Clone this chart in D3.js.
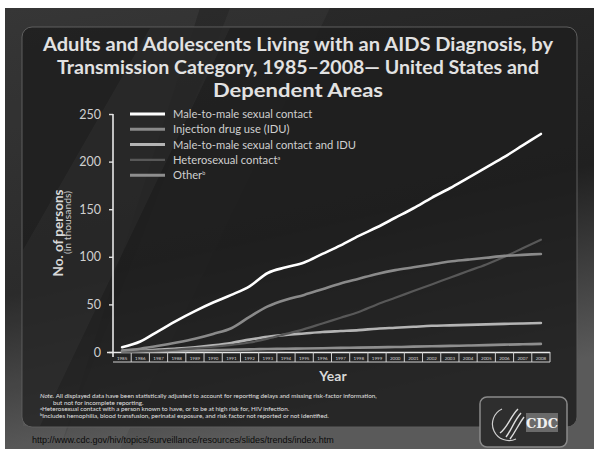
<!DOCTYPE html>
<html>
<head>
<meta charset="utf-8">
<script src="https://cdn.jsdelivr.net/npm/d3@7"></script>
<style>
  body { margin: 0; background: #fff; }
  svg { display: block; }
</style>
</head>
<body>
<svg id="chart" width="594" height="449"></svg>
<script>
// data, thousands of persons
var years = d3.range(1985, 2009);
var msm =    [5, 11, 22, 33, 43, 52, 60, 69, 83, 89, 94, 103, 112, 122, 131, 141, 151, 162, 172, 183, 194, 205, 217, 229];
var idu =    [1.5, 3.5, 6.5, 10, 14, 19, 25, 37, 48, 55, 60, 66, 72, 77, 82, 86, 89, 92, 95, 97, 99, 101, 102, 103];
var msmIdu = [1, 1.5, 2.5, 3.5, 5, 7, 9.5, 13, 16, 18, 19.5, 21, 22, 23, 24.5, 25.5, 26.5, 27.5, 28, 28.5, 29, 29.5, 30, 30.5];
var hetero = [0.5, 1, 1.5, 2.5, 4, 5.5, 7.5, 10, 14, 19, 24, 30, 36, 42, 50, 57, 64, 71, 78, 85, 92, 100, 109, 118];
var other =  [0.3, 0.5, 0.8, 1.1, 1.5, 2, 2.4, 2.8, 3.1, 3.4, 3.7, 4, 4.3, 4.6, 4.9, 5.2, 5.6, 6, 6.4, 6.8, 7.2, 7.7, 8.1, 8.5];
var yTicks = [0, 50, 100, 150, 200, 250];

var seriesNames = ['Male-to-male sexual contact', 'Injection drug use (IDU)',
  'Male-to-male sexual contact and IDU', 'Heterosexual  contact', 'Other'];
var seriesSup = ['', '', '', 'a', 'b'];

var series = [
  {values: other,  color: '#8e8e8e', width: 2.6},
  {values: msmIdu, color: '#b4b4b4', width: 2.6},
  {values: hetero, color: '#585858', width: 2.2},
  {values: idu,    color: '#8a8a8a', width: 2.6},
  {values: msm,    color: '#ffffff', width: 2.6}
];
var legendStyle = [
  {color: '#ffffff', width: 3},
  {color: '#8a8a8a', width: 3},
  {color: '#b4b4b4', width: 3},
  {color: '#585858', width: 2.4},
  {color: '#8e8e8e', width: 3}
];

var svg = d3.select('#chart');

// slide background
var defs = svg.append('defs');
var grad = defs.append('linearGradient').attr('id', 'bg')
  .attr('x1', 0).attr('y1', 0).attr('x2', 0.3).attr('y2', 1);
grad.append('stop').attr('offset', '0%').attr('stop-color', '#2c2c2c');
grad.append('stop').attr('offset', '60%').attr('stop-color', '#202020');
grad.append('stop').attr('offset', '100%').attr('stop-color', '#5a5a5a');

svg.append('rect').attr('x', 5).attr('y', 8).attr('width', 589).attr('height', 441)
  .attr('fill', 'url(#bg)');
svg.append('path').attr('d', 'M5,8 L200,8 L60,449 L5,449 Z')
  .attr('fill', '#ffffff').attr('opacity', 0.05);
svg.append('path').attr('d', 'M230,8 L330,8 L120,449 L60,449 Z')
  .attr('fill', '#ffffff').attr('opacity', 0.035);

// inner panel
svg.append('rect').attr('x', 22).attr('y', 27).attr('width', 555).attr('height', 400)
  .attr('rx', 10).attr('fill', '#1e1e1e').attr('fill-opacity', 0.85)
  .attr('stroke', '#5e5e5e').attr('stroke-width', 1);
svg.append('path').attr('d', 'M23,250 L150,28 L230,28 L40,426 L23,426 Z')
  .attr('fill', '#ffffff').attr('opacity', 0.035);

// title
var titleLines = ['Adults and Adolescents Living with an AIDS Diagnosis, by',
  'Transmission Category, 1985\u20132008\u2014 United States and',
  'Dependent Areas'];
var titleWidths = [510, 482, 170];
svg.append('g').selectAll('text').data(titleLines).join('text')
  .attr('x', 298).attr('y', function (d, i) { return 51 + i * 23; })
  .attr('text-anchor', 'middle')
  .attr('font-family', 'Lato, "Open Sans", sans-serif')
  .attr('font-weight', 'bold').attr('font-size', 19)
  .attr('fill', '#e2e2e2')
  .attr('textLength', function (d, i) { return titleWidths[i]; })
  .attr('lengthAdjust', 'spacingAndGlyphs')
  .text(function (d) { return d; });

// scales
var x = d3.scaleBand().domain(years).range([113, 550]);
var y = d3.scaleLinear().domain([0, 250]).range([352, 114]);

var g = svg.append('g');

// y axis
var yAxis = g.append('g').attr('transform', 'translate(113,0)')
  .call(d3.axisLeft(y).tickValues(yTicks).tickSize(4).tickPadding(8));
yAxis.select('.domain').remove();
yAxis.selectAll('line').attr('stroke', '#e0e0e0').attr('stroke-width', 1.4);
yAxis.selectAll('text').attr('fill', '#d0d0d0')
  .attr('font-family', 'Lato, sans-serif').attr('font-size', 12.5);
g.append('line').attr('x1', 113).attr('x2', 113).attr('y1', 114).attr('y2', 357)
  .attr('stroke', '#e8e8e8').attr('stroke-width', 1.6);

// x axis strip with boxed year labels
var xAxis = g.append('g').attr('transform', 'translate(0,352)')
  .call(d3.axisBottom(x).tickSize(0).tickPadding(5));
xAxis.select('.domain').remove();
xAxis.selectAll('text').attr('fill', '#d8d8d8')
  .attr('font-family', 'Lato, sans-serif').attr('font-size', 4.5);
g.append('line').attr('x1', 107).attr('x2', 550).attr('y1', 352.5).attr('y2', 352.5)
  .attr('stroke', '#e8e8e8').attr('stroke-width', 1.6);
g.append('line').attr('x1', 113).attr('x2', 550).attr('y1', 362).attr('y2', 362)
  .attr('stroke', '#d0d0d0').attr('stroke-width', 1);
g.append('g').selectAll('line').data(years).join('line')
  .attr('x1', function (d) { return x(d) + x.bandwidth(); })
  .attr('x2', function (d) { return x(d) + x.bandwidth(); })
  .attr('y1', 352).attr('y2', 362)
  .attr('stroke', '#d0d0d0').attr('stroke-width', 1);

// axis titles
g.append('text').attr('x', 333).attr('y', 381).attr('text-anchor', 'middle')
  .attr('font-family', 'Lato, sans-serif').attr('font-weight', 'bold')
  .attr('font-size', 14).attr('fill', '#d8d8d8').text('Year');
g.append('text').attr('transform', 'translate(63,233) rotate(-90)')
  .attr('text-anchor', 'middle')
  .attr('font-family', 'Lato, sans-serif').attr('font-weight', 'bold')
  .attr('font-size', 13.5).attr('fill', '#d8d8d8')
  .attr('textLength', 87).attr('lengthAdjust', 'spacingAndGlyphs')
  .text('No. of persons');
g.append('text').attr('transform', 'translate(70.5,191) rotate(-90)')
  .attr('text-anchor', 'end')
  .attr('font-family', 'Lato, sans-serif')
  .attr('font-size', 9).attr('fill', '#c8c8c8')
  .attr('textLength', 63).attr('lengthAdjust', 'spacingAndGlyphs')
  .text('(in thousands)');

// lines
var line = d3.line()
  .x(function (d, i) { return x(years[i]) + x.bandwidth() / 2; })
  .y(function (d) { return y(d); })
  .curve(d3.curveMonotoneX);

g.append('g').selectAll('path').data(series).join('path')
  .attr('d', function (d) { return line(d.values); })
  .attr('fill', 'none')
  .attr('stroke', function (d) { return d.color; })
  .attr('stroke-width', function (d) { return d.width; })
  .attr('stroke-linecap', 'round');

// legend
var legend = g.append('g').selectAll('g').data(seriesNames).join('g')
  .attr('transform', function (d, i) { return 'translate(130,' + (114 + i * 15.3) + ')'; });
legend.append('line').attr('x1', 0).attr('x2', 35)
  .attr('stroke', function (d, i) { return legendStyle[i].color; })
  .attr('stroke-width', function (d, i) { return legendStyle[i].width; });
var lt = legend.append('text').attr('x', 43).attr('y', 4)
  .attr('font-family', 'Lato, sans-serif').attr('font-size', 11.2)
  .attr('fill', '#cfcfcf');
lt.append('tspan').text(function (d) { return d; });
lt.append('tspan').attr('dy', -4).attr('font-size', 5.5)
  .text(function (d, i) { return seriesSup[i]; });

// notes
var notes = g.append('g').attr('font-family', 'Lato, sans-serif')
  .attr('font-size', 6.3).attr('fill', '#e0e0e0');
var n1 = notes.append('text').attr('x', 40).attr('y', 398);
n1.append('tspan').attr('font-style', 'italic').text('Note. ');
n1.append('tspan').text('All displayed data have been statistically adjusted to account for reporting delays and missing risk-factor information,');
notes.append('text').attr('x', 53).attr('y', 404.5).text('but not for incomplete reporting.');
var n3 = notes.append('text').attr('x', 40).attr('y', 411);
n3.append('tspan').attr('font-size', 4.2).attr('dy', -1.5).text('a');
n3.append('tspan').attr('dy', 1.5).text('Heterosexual contact with a person known to have, or to be at high risk for, HIV infection.');
var n4 = notes.append('text').attr('x', 40).attr('y', 417.5);
n4.append('tspan').attr('font-size', 4.2).attr('dy', -1.5).text('b');
n4.append('tspan').attr('dy', 1.5).text('Includes hemophilia, blood transfusion, perinatal exposure, and risk factor not reported or not identified.');

// CDC logo badge
var logo = svg.append('g').attr('transform', 'translate(480,397)');
logo.append('rect').attr('width', 87).attr('height', 50).attr('rx', 7)
  .attr('fill', '#2e2e2e').attr('stroke', '#8a8a8a').attr('stroke-width', 1.5);
logo.append('path').attr('d', 'M22,12 A15,15 0 1,0 36,42')
  .attr('fill', 'none').attr('stroke', '#cfcfcf').attr('stroke-width', 1.2);
logo.append('path').attr('d', 'M38,12 C30,20 28,30 20,36 M41,16 C34,24 32,32 26,40 M44,20 C38,28 36,34 30,42')
  .attr('fill', 'none').attr('stroke', '#dcdcdc').attr('stroke-width', 1.4);
logo.append('rect').attr('x', 46).attr('y', 16).attr('width', 32).attr('height', 19)
  .attr('fill', '#6a6a6a');
logo.append('text').attr('x', 62).attr('y', 31).attr('text-anchor', 'middle')
  .attr('font-family', '"DejaVu Serif", serif').attr('font-weight', 'bold')
  .attr('font-size', 13).attr('fill', '#f0f0f0').text('CDC');

// source url
svg.append('text').attr('x', 32).attr('y', 443)
  .attr('font-family', '"Liberation Sans", Arial, sans-serif').attr('font-size', 9)
  .attr('fill', '#0a0a0a')
  .text('http://www.cdc.gov/hiv/topics/surveillance/resources/slides/trends/index.htm');
</script>
</body>
</html>
